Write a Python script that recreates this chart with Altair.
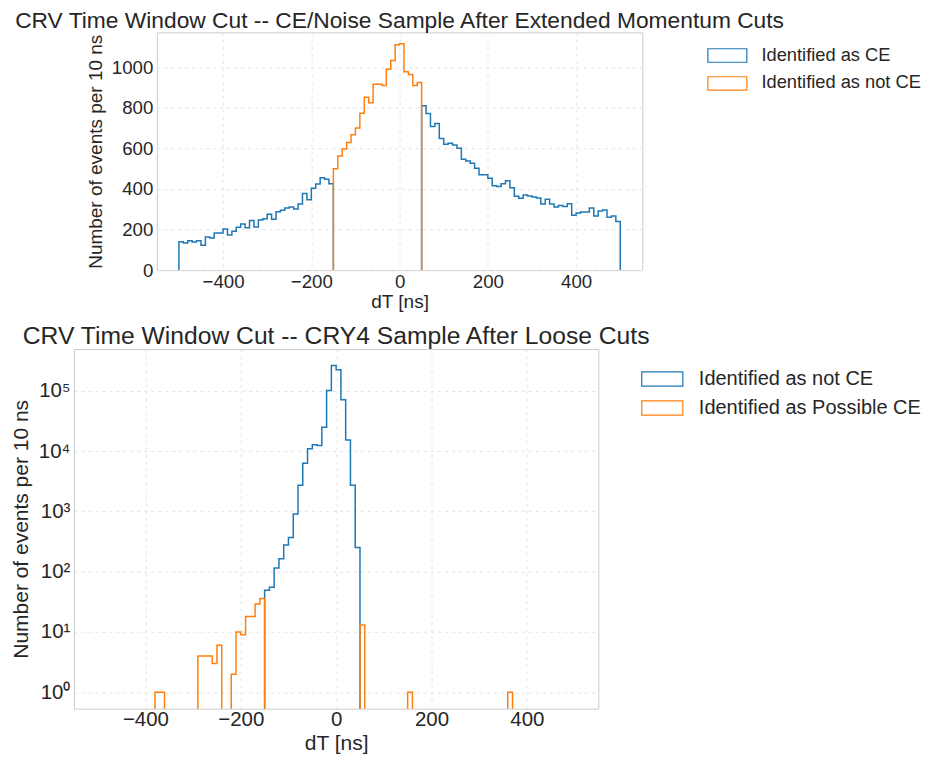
import altair as alt
import pandas as pd

BIN = 10
FONT = "Liberation Sans"
TEXT = "#262626"
BLUE = "#1f77b4"
ORANGE = "#ff7f0e"

# ---------------- top panel data (counts per 10 ns bin) ----------------
top_ce_left_start = -500
top_ce_left = [140, 133, 145, 138, 145, 123, 163, 158, 183, 183, 202, 173, 191, 211, 227,
               209, 245, 212, 247, 253, 275, 250, 288, 295, 306, 311, 301, 326, 378, 347,
               403, 424, 455, 447, 425]
top_notce_start = -150
top_notce = [499, 562, 597, 628, 667, 700, 773, 852, 825, 916, 916, 909, 990, 1033, 1110,
             1115, 977, 963, 909, 924]
top_ce_right_start = 50
top_ce_right = [810, 771, 707, 722, 648, 620, 625, 616, 600, 546, 537, 526, 502, 470, 470,
                452, 416, 412, 425, 440, 406, 364, 354, 370, 365, 360, 355, 326, 349, 326,
                311, 318, 313, 327, 270, 281, 286, 286, 306, 267, 291, 296, 260, 267, 240]

# ---------------- bottom panel data ----------------
bot_notce_start = -150
bot_notce = [49, 55, 115, 163, 278, 370, 908, 2700, 6300, 10900, 12700, 12400, 24900,
             101000, 263000, 223000, 71000, 15300, 2720, 251]
bot_possible_bins = [-380, -370, -290, -280, -270, -260, -250, -220, -210, -200, -190,
                     -180, -170, -160, 50, 150, 360]
bot_possible = [1, 1, 4, 4, 4, 3, 6, 2, 10, 9, 18, 18, 29, 36, 13, 1, 1]

top_series = ["Identified as CE", "Identified as not CE"]
bot_series = ["Identified as not CE", "Identified as Possible CE"]

top_title = "CRV Time Window Cut -- CE/Noise Sample After Extended Momentum Cuts"
bot_title = "CRV Time Window Cut -- CRY4 Sample After Loose Cuts"
x_title = "dT [ns]"
y_title = "Number of events per 10 ns"


def step_rows(lefts, counts, base, series, seg_prefix):
    """Outline of a step histogram: contiguous bins form one run."""
    rows = []
    run = 0
    order = 0
    prev_right = None
    for left, c in zip(lefts, counts):
        if prev_right is None or left != prev_right:
            if prev_right is not None:
                rows.append(dict(x=prev_right, y=base, order=order, seg=f"{seg_prefix}{run}", series=series))
                order += 1
                run += 1
            rows.append(dict(x=left, y=base, order=order, seg=f"{seg_prefix}{run}", series=series))
            order += 1
        rows.append(dict(x=left, y=c, order=order, seg=f"{seg_prefix}{run}", series=series)); order += 1
        rows.append(dict(x=left + BIN, y=c, order=order, seg=f"{seg_prefix}{run}", series=series)); order += 1
        prev_right = left + BIN
    rows.append(dict(x=prev_right, y=base, order=order, seg=f"{seg_prefix}{run}", series=series))
    return rows


top_ce_lefts = [top_ce_left_start + BIN * i for i in range(len(top_ce_left))] + \
               [top_ce_right_start + BIN * i for i in range(len(top_ce_right))]
top_notce_lefts = [top_notce_start + BIN * i for i in range(len(top_notce))]
bot_notce_lefts = [bot_notce_start + BIN * i for i in range(len(bot_notce))]

top_df = pd.DataFrame(
    step_rows(top_ce_lefts, top_ce_left + top_ce_right, 0, top_series[0], "a")
    + step_rows(top_notce_lefts, top_notce, 0, top_series[1], "b"))
bot_df = pd.DataFrame(
    step_rows(bot_notce_lefts, bot_notce, 0.2, bot_series[0], "c")
    + step_rows(bot_possible_bins, bot_possible, 0.2, bot_series[1], "d"))

BOX = "M-2.6,-0.9H2.6V0.9H-2.6Z"
VIEW = alt.ViewBackground(stroke="#cccccc", strokeWidth=1)


def panel(df, series, ydomain, ytype, yvalues, width, height, title, legend_x, legend_y,
          fs_title, fs_label, fs_axtitle, fs_legend, sym_size, label_off, row_pad,
          x_label_pad=2, y_title_pad=6, label_expr=None, yfmt=None):
    xax = alt.Axis(values=[-400, -200, 0, 200, 400], title=x_title, format="d",
                   labelFontSize=fs_label, titleFontSize=fs_axtitle, labelPadding=x_label_pad)
    yax_kwargs = dict(values=yvalues, title=y_title, titlePadding=y_title_pad,
                      labelFontSize=fs_label, titleFontSize=fs_axtitle)
    if label_expr:
        yax_kwargs["labelExpr"] = label_expr
    if yfmt:
        yax_kwargs["format"] = yfmt
    yax = alt.Axis(**yax_kwargs)
    color = alt.Color("series:N",
                      scale=alt.Scale(domain=series, range=[BLUE, ORANGE]),
                      legend=alt.Legend(title=None, orient="none", legendX=legend_x, legendY=legend_y,
                                        symbolType=BOX, symbolSize=sym_size, symbolStrokeWidth=1.2,
                                        symbolFillColor="white", labelFontSize=fs_legend, labelFont=FONT,
                                        labelColor=TEXT, labelOffset=label_off, rowPadding=row_pad,
                                        labelLimit=0, padding=0))
    layers = []
    for s in series:
        layers.append(
            alt.Chart(df).transform_filter(alt.datum.series == s).mark_line(strokeWidth=1.5, clip=True).encode(
                x=alt.X("x:Q", scale=alt.Scale(domain=[-550, 550], nice=False, zero=False), axis=xax),
                y=alt.Y("y:Q", scale=alt.Scale(type=ytype, domain=ydomain, nice=False, zero=False), axis=yax),
                color=color,
                detail="seg:N",
                order="order:Q",
            )
        )
    return alt.layer(*layers).properties(
        width=width, height=height, view=VIEW,
        title=alt.TitleParams(title, anchor="middle", frame="group", fontSize=fs_title, font=FONT,
                              fontWeight="normal", color=TEXT, offset=0),
    )


top = panel(top_df, top_series, [0, 1171], "linear", [0, 200, 400, 600, 800, 1000], 486, 238,
            top_title, 645, 14,
            fs_title=22.8, fs_label=18.7, fs_axtitle=19, fs_legend=18.3, sym_size=225,
            label_off=25, row_pad=8, yfmt="d")
bottom = panel(bot_df, bot_series, [0.536, 491000], "log", [1, 10, 100, 1000, 10000, 100000], 525, 360,
               bot_title, 579, 20,
               fs_title=24.7, fs_label=20.5, fs_axtitle=21, fs_legend=20, sym_size=250,
               label_off=26.6, row_pad=9, x_label_pad=1, y_title_pad=7,
               label_expr="'10' + ['\u2070','\u00b9','\u00b2','\u00b3','\u2074','\u2075'][round(log(datum.value)/LN10)]")

# invisible spacer that pushes the upper panel to the right of the lower one
spacer = alt.Chart(pd.DataFrame({"s": [0]})).mark_point(opacity=0).encode(
    x=alt.X("s:Q", axis=None), y=alt.Y("s:Q", axis=None)
).properties(width=83, height=10, view=alt.ViewBackground(stroke=None))

upper = alt.hconcat(spacer, top, spacing=0, bounds="flush")

chart = alt.vconcat(upper, bottom, spacing=10).resolve_scale(
    color="independent", x="independent", y="independent").resolve_legend(color="independent").properties(
    padding={"left": 1, "top": 0, "right": 0, "bottom": 0}
).configure_view(stroke=None).configure_axis(
    labelFont=FONT, titleFont=FONT,
    labelColor=TEXT, titleColor=TEXT, titleFontWeight="normal",
    grid=True, gridColor="#e3e3e3", gridDash=[3, 4], gridWidth=1,
    domain=False, ticks=False,
).configure_axisX(titlePadding=2).configure_axisY(labelPadding=4)

chart.save("out.html", embed_options={"renderer": "svg", "actions": False})
